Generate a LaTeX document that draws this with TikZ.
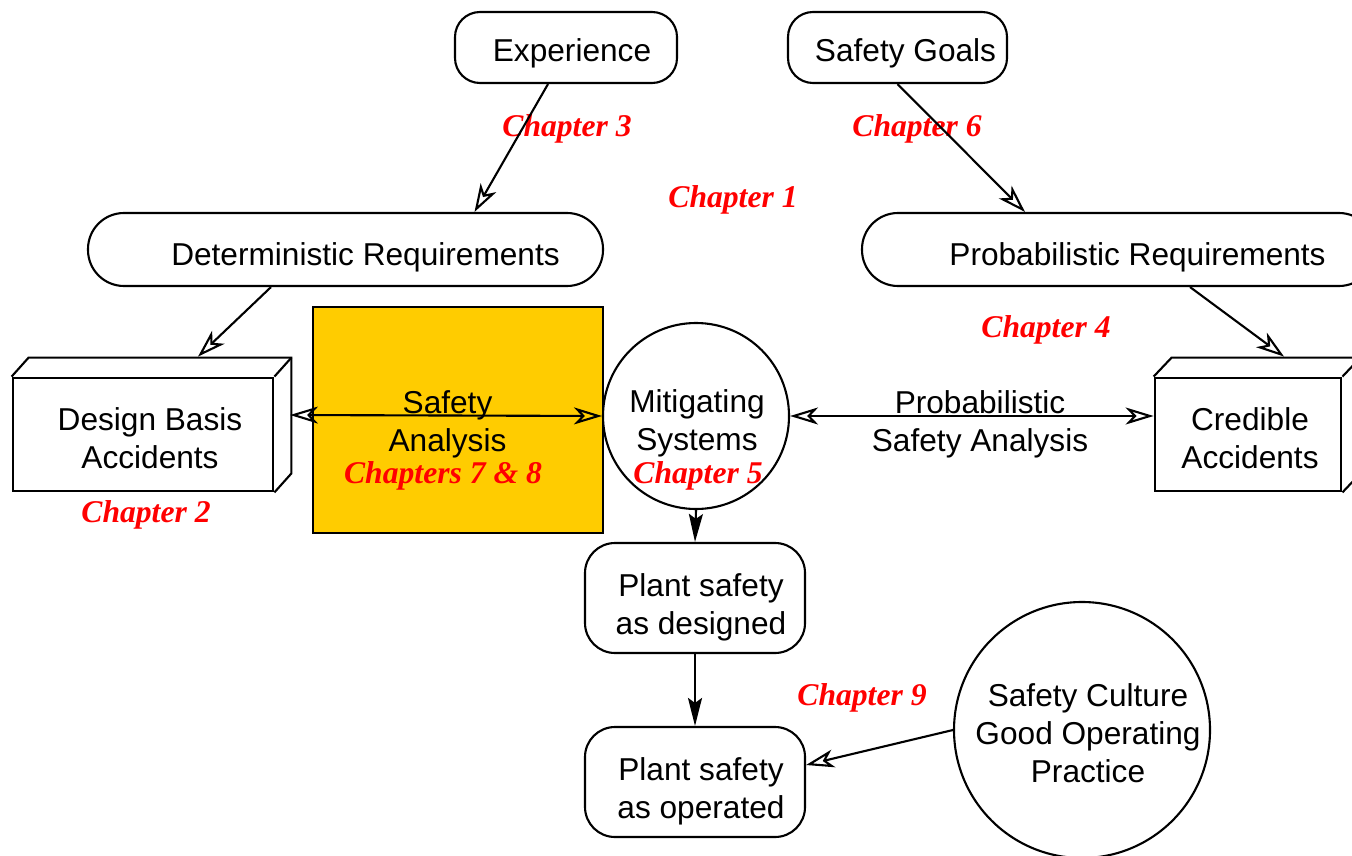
\documentclass[tikz,border=0pt]{standalone}
\usepackage{fontspec}
\setmainfont{Liberation Sans}
\newfontfamily\chapfont{Liberation Serif}
\usetikzlibrary{arrows.meta}
\definecolor{gold}{HTML}{FFCC00}

\begin{document}
\begin{tikzpicture}[y=-1cm,
  every node/.style={font=\fontsize{9}{10.8}\selectfont},
  rbox/.style={draw,line width=0.6pt,rounded corners=#1,inner sep=0pt},
  slab/.style={draw,line width=0.8pt,inner sep=0pt},
  txt/.style={align=center,inner sep=0pt},
  chap/.style={text=red,font=\chapfont\bfseries\itshape\fontsize{9}{10.8}\selectfont},
  tip/.style={line width=0.6pt,-{Stealth[open,length=0.28cm,width=0.18cm,inset=0.08cm]}},
  dbl/.style={line width=0.6pt,{Stealth[open,length=0.28cm,width=0.17cm,inset=0.08cm]}-{Stealth[open,length=0.28cm,width=0.17cm,inset=0.08cm]}},
  solidtip/.style={line width=0.6pt,-{Stealth[length=0.28cm,width=0.14cm,inset=0.05cm]}}]
\useasboundingbox (0,0) rectangle (13.52,8.55);
% shapes
\node(experience)[rbox=0.25cm,minimum width=2.22cm,minimum height=0.71cm] at (5.66,0.475){};
\node(goals)[rbox=0.25cm,minimum width=2.19cm,minimum height=0.71cm] at (8.975,0.475){};
\node(detreq)[rbox=0.36cm,minimum width=5.15cm,minimum height=0.73cm] at (3.455,2.495){};
\node(probreq)[rbox=0.36cm,minimum width=5.13cm,minimum height=0.73cm] at (11.185,2.495){};
\node(dba)[slab,minimum width=2.60cm,minimum height=1.13cm] at (1.43,4.345){};
\node(cred)[slab,minimum width=1.86cm,minimum height=1.13cm] at (12.48,4.345){};
\node(analysis)[draw,fill=gold,line width=0.6pt,minimum width=2.90cm,minimum height=2.26cm,inner sep=0pt] at (4.58,4.20){};
\node(mitig)[circle,draw,line width=0.6pt,minimum size=1.86cm,inner sep=0pt] at (6.96,4.16){};
\node(designed)[rbox=0.3cm,minimum width=2.20cm,minimum height=1.10cm] at (6.95,5.98){};
\node(operated)[rbox=0.3cm,minimum width=2.20cm,minimum height=1.10cm] at (6.95,7.82){};
\node(culture)[circle,draw,line width=0.6pt,minimum size=2.56cm,inner sep=0pt] at (10.82,7.30){};
\coordinate(dbaside) at (2.90,4.15);
% back faces of the two slabs
\path[draw,line width=0.6pt] (dba.north west) -- ++(0.17,-0.19) -- ([shift={(0.17,-0.19)}]dba.north east) -- ([shift={(0.17,-0.19)}]dba.south east) -- (dba.south east);
\path[draw,line width=0.6pt] (dba.north east) -- ++(0.17,-0.19);
\path[draw,line width=0.6pt] (cred.north west) -- ++(0.18,-0.19) -- ([shift={(0.18,-0.19)}]cred.north east) -- ([shift={(0.18,-0.19)}]cred.south east) -- (cred.south east);
\path[draw,line width=0.6pt] (cred.north east) -- ++(0.18,-0.19);
% texts
\node(experiencetxt)[txt] at ([shift={(0.06,0.06)}]experience.center){Experience};
\node(goalstxt)[txt] at ([shift={(0.08,0.06)}]goals.center){Safety Goals};
\node(detreqtxt)[txt] at ([shift={(0.20,0.08)}]detreq.center){Deterministic Requirements};
\node(probreqtxt)[txt] at ([shift={(0.19,0.08)}]probreq.center){Probabilistic Requirements};
\node(dbatxt)[txt] at ([shift={(0.07,0.04)}]dba.center){Design Basis\\Accidents};
\node(credtxt)[txt] at ([shift={(0.02,0.04)}]cred.center){Credible\\Accidents};
\node(analysistxt)[txt] at ([shift={(-0.105,0.04)}]analysis.center){Safety\\Analysis};
\node(mitigtxt)[txt] at ([shift={(0.01,0.07)}]mitig.center){Mitigating\\Systems};
\node(psa)[txt] at (9.80,4.24){Probabilistic\\Safety Analysis};
\node(designedtxt)[txt] at ([shift={(0.06,0.09)}]designed.center){Plant safety\\as designed};
\node(operatedtxt)[txt] at ([shift={(0.06,0.095)}]operated.center){Plant safety\\as operated};
\node(culturetxt)[txt] at ([shift={(0.06,0.03)}]culture.center){Safety Culture\\Good Operating\\Practice};
% chapters
\node(ch1)[chap] at (7.33,2.00){Chapter 1};
\node(ch2)[chap] at (1.46,5.15){Chapter 2};
\node(ch3)[chap] at (5.67,1.29){Chapter 3};
\node(ch4)[chap] at (10.46,3.30){Chapter 4};
\node(ch5)[chap] at (6.98,4.76){Chapter 5};
\node(ch6)[chap] at (9.17,1.29){Chapter 6};
\node(ch78)[chap] at (4.43,4.76){Chapters 7 \& 8};
\node(ch9)[chap] at (8.62,6.98){Chapter 9};
% connectors
\path[draw,tip] ([xshift=-0.18cm]experience.south) -- ([xshift=1.29cm]detreq.north);
\path[draw,tip] (goals.south) -- ([xshift=-0.935cm]probreq.north);
\path[draw,tip] ([xshift=-0.745cm]detreq.south) -- ([shift={(0.55,-0.20)}]dba.north);
\path[draw,tip] ([xshift=0.715cm]probreq.south) -- ([shift={(0.36,-0.20)}]cred.north);
\path[draw,dbl] (dbaside) -- (mitig.west);
\path[draw,dbl] (mitig.east) -- (mitig.east -| cred.west);
\path[draw,solidtip] (mitig.south) -- (designed.north);
\path[draw,solidtip] (designed.south) -- (operated.north);
\path[draw,tip] (culture.west) -- ([shift={(0,-0.17)}]operated.east);
\end{tikzpicture}
\end{document}
